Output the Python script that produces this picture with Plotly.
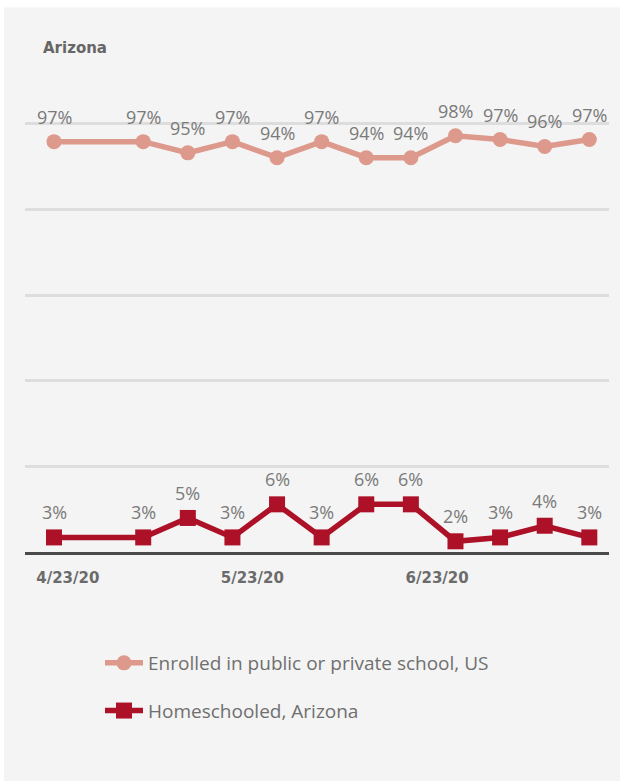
import plotly.graph_objects as go

# ---- data ----
dates = ["2020-04-23", "2020-05-07", "2020-05-14", "2020-05-21", "2020-05-28", "2020-06-04",
         "2020-06-11", "2020-06-18", "2020-06-25", "2020-07-02", "2020-07-09", "2020-07-16"]
enrolled = [96.7, 96.7, 94.6, 96.7, 93.7, 96.7, 93.7, 93.7, 97.8, 97.1, 95.8, 97.1]
homeschooled = [2.7, 2.7, 4.7, 2.7, 6.1, 2.7, 6.1, 6.1, 2.3, 2.7, 3.9, 2.7]
series_names = ["Enrolled in public or private school, US", "Homeschooled, Arizona"]
tick_dates = ["2020-04-25 04:00", "2020-05-24 03:00", "2020-06-22 03:00"]
tick_labels = ["4/23/20", "5/23/20", "6/23/20"]
title_text = "Arizona"

C_ENR = "#dd998b"
C_HOME = "#ad1128"
LABEL_FONT = dict(family="Open Sans", size=18, color="#7a7a7a")

fig = go.Figure()
fig.add_trace(go.Scatter(
    x=dates, y=enrolled, name=series_names[0], mode="lines+markers",
    line=dict(color=C_ENR, width=5.5), marker=dict(symbol="circle", size=15, color=C_ENR),
    yaxis="y", legendgroup="a", hoverinfo="skip"))
fig.add_trace(go.Scatter(
    x=dates, y=homeschooled, name=series_names[1], mode="lines+markers",
    line=dict(color=C_HOME, width=5.5), marker=dict(symbol="square", size=16, color=C_HOME),
    yaxis="y2", legendgroup="b", hoverinfo="skip"))

annotations = []
for d, v in zip(dates, enrolled):
    annotations.append(dict(x=d, y=v, xref="x", yref="y", text=f"{round(v)}%",
                            showarrow=False, yshift=25, yanchor="middle", font=LABEL_FONT))
for d, v in zip(dates, homeschooled):
    annotations.append(dict(x=d, y=v, xref="x", yref="y2", text=f"{round(v)}%",
                            showarrow=False, yshift=25, yanchor="middle", font=LABEL_FONT))

PLOT_H = 430
fig.update_layout(
    width=621, height=781,
    margin=dict(l=25, r=12, t=122, b=229, pad=0),
    paper_bgcolor="white",
    plot_bgcolor="rgba(0,0,0,0)",
    showlegend=True,
    title=dict(text=f"<b>{title_text}</b>", xref="container", yref="container",
               x=43 / 621, xanchor="left", y=1 - 48 / 781, yanchor="middle",
               font=dict(family="DejaVu Sans", size=15, color="#666666")),
    xaxis=dict(type="date", range=["2020-04-18 10:48", "2020-07-19 02:10"],
               tickvals=tick_dates, ticktext=tick_labels,
               tickfont=dict(family="DejaVu Sans", size=15, color="#6b6b6b", weight="bold"),
               ticks="outside", ticklen=10, tickcolor="rgba(0,0,0,0)",
               showgrid=False, zeroline=False,
               showline=True, linecolor="#4a4a4a", linewidth=3),
    yaxis=dict(range=[20, 100.37], tickvals=[36, 52, 68, 84, 100], showticklabels=False,
               showgrid=True, gridcolor="#dddddd", gridwidth=2.5, zeroline=False,
               showline=False, ticks=""),
    yaxis2=dict(range=[1.2, 45.41], overlaying="y", visible=False, showgrid=False),
    legend=dict(orientation="v", x=(100 - 25) / 584, xanchor="left",
                y=(552 - 644) / PLOT_H, yanchor="top", tracegroupgap=20,
                font=dict(family="Open Sans", size=19, color="#6f6f6f"),
                bgcolor="rgba(0,0,0,0)", itemwidth=38),
    annotations=annotations,
    shapes=[dict(type="rect", xref="paper", yref="paper", layer="below",
                 x0=(4 - 25) / 584, x1=(620 - 25) / 584,
                 y0=(552 - 800) / PLOT_H, y1=(552 - 7.5) / PLOT_H,
                 fillcolor="#f4f4f4", line=dict(width=0))],
)

fig.write_html("out.html", config={"displayModeBar": False},
               post_script="document.body.style.margin='0';")
